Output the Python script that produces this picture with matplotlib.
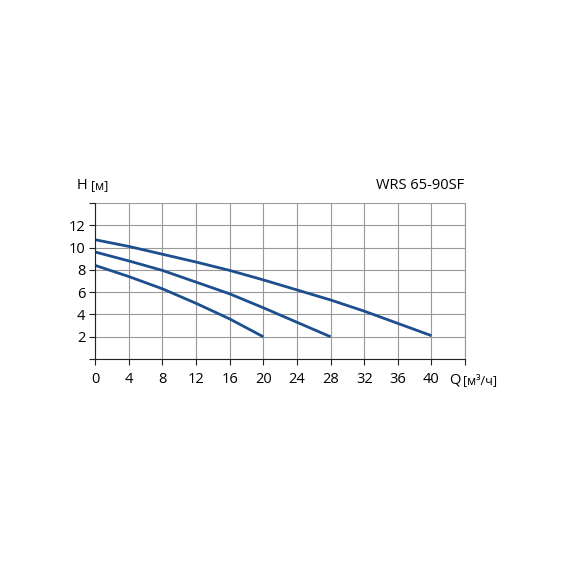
import matplotlib.pyplot as plt
import numpy as np

q_top = [0, 4, 8, 12, 16, 20, 24, 28, 32, 36, 40]
h_top = [10.7, 10.1, 9.4, 8.7, 7.95, 7.1, 6.2, 5.3, 4.3, 3.2, 2.1]
q_mid = [0, 4, 8, 12, 16, 20, 24, 28]
h_mid = [9.6, 8.8, 7.95, 6.9, 5.85, 4.6, 3.3, 2.0]
q_low = [0, 4, 8, 12, 16, 20]
h_low = [8.4, 7.4, 6.3, 5.0, 3.6, 2.0]

xticks = np.arange(0, 41, 4)
yticks = [2, 4, 6, 8, 10, 12]

plt.rcParams['font.family'] = ['Open Sans', 'DejaVu Sans']

fig = plt.figure(figsize=(5.7, 5.7), dpi=100)
ax = fig.add_axes([0.167, 0.370, 0.649, 0.274])

for q, h in [(q_top, h_top), (q_mid, h_mid), (q_low, h_low)]:
    ax.plot(q, h, color='#1d4f8f', lw=2.0, solid_capstyle='butt')

ax.set_xlim(0, 44)
ax.set_ylim(0, 14)
ax.set_xticks(np.arange(0, 45, 4))
ax.set_xticklabels([str(v) for v in xticks] + [''], fontsize=10.5)
ax.set_yticks(np.arange(0, 15, 2))
ax.set_yticklabels([''] + [str(v) for v in yticks] + [''], fontsize=10.5)
ax.grid(True, color='#999999', lw=0.8)
ax.tick_params(axis='x', length=4, color='#222222', pad=5)
ax.tick_params(axis='y', length=4, color='#222222', pad=3)
ax.spines['top'].set_visible(False)
ax.spines['right'].set_color('#999999')
ax.spines['left'].set_color('#222222')
ax.spines['bottom'].set_color('#222222')

fig.text(0.135, 0.668, 'H', fontsize=10.5)
fig.text(0.16, 0.668, '[м]', fontsize=9)
fig.text(0.815, 0.668, 'WRS 65-90SF', fontsize=10.5, ha='right')
fig.text(0.788, 0.327, 'Q', fontsize=10.5)
fig.text(0.812, 0.327, '[м³/ч]', fontsize=9)

fig.savefig('out.png', dpi=100)
